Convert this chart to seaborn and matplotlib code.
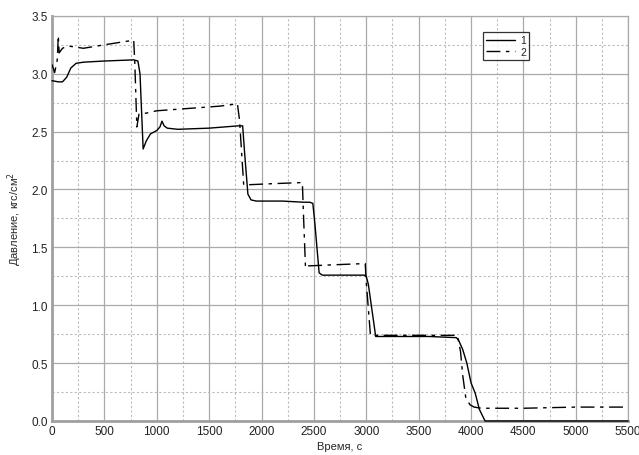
import numpy as np
import pandas as pd
import matplotlib
matplotlib.use("Agg")
import matplotlib.pyplot as plt
import seaborn as sns
from matplotlib.ticker import MultipleLocator

# curve 1 (solid)
t1 = [0, 60, 100, 140, 180, 230, 300, 500, 780, 820, 840, 870, 900, 940, 1000, 1030,
      1050, 1070, 1100, 1200, 1500, 1780, 1820, 1840, 1870, 1900, 1950, 2200, 2400,
      2460, 2490, 2510, 2550, 2580, 2800, 2980, 3000, 3020, 3090, 3300, 3600, 3860,
      3880, 3920, 3960, 4000, 4040, 4080, 4134, 4500, 5000, 5500]
p1 = [2.94, 2.93, 2.93, 2.97, 3.05, 3.09, 3.10, 3.11, 3.12, 3.11, 3.00, 2.35, 2.42,
      2.48, 2.51, 2.54, 2.59, 2.55, 2.53, 2.52, 2.53, 2.55, 2.55, 2.30, 1.96, 1.91,
      1.90, 1.90, 1.89, 1.89, 1.88, 1.70, 1.28, 1.26, 1.26, 1.26, 1.25, 1.18, 0.73,
      0.73, 0.73, 0.72, 0.70, 0.62, 0.50, 0.33, 0.24, 0.10, 0.00, 0.00, 0.00, 0.00]

# curve 2 (dash-dot)
t2 = [0, 25, 50, 60, 68, 100, 150, 300, 500, 780, 790, 810, 830, 900, 1000, 1300,
      1600, 1770, 1790, 1830, 1850, 2100, 2390, 2400, 2420, 2450, 2700, 2990, 3000,
      3040, 3060, 3300, 3600, 3870, 3900, 3920, 3950, 3990, 4030, 4100, 4500, 5000, 5500]
p2 = [3.08, 3.01, 3.12, 3.33, 3.18, 3.22, 3.24, 3.22, 3.25, 3.29, 3.10, 2.54, 2.65,
      2.66, 2.68, 2.70, 2.72, 2.74, 2.60, 2.04, 2.04, 2.05, 2.06, 1.80, 1.32, 1.34,
      1.35, 1.36, 1.20, 0.74, 0.74, 0.74, 0.74, 0.74, 0.60, 0.40, 0.20, 0.14, 0.12,
      0.11, 0.11, 0.12, 0.12]

sns.set_style("white")
plt.rcParams['font.family'] = ['Liberation Sans', 'DejaVu Sans']

fig = plt.figure(figsize=(6.39, 4.56), dpi=100)
ax = fig.add_axes([0.0814, 0.0746, 0.9016, 0.8884])

df1 = pd.DataFrame({"t": t1, "p": p1})
df2 = pd.DataFrame({"t": t2, "p": p2})
sns.lineplot(data=df1, x="t", y="p", ax=ax, color="black", lw=1.0,
             estimator=None, sort=False, label="1", zorder=4, clip_on=False)
sns.lineplot(data=df2, x="t", y="p", ax=ax, color="black", lw=1.0,
             estimator=None, sort=False, label="2", dashes=False, zorder=4)
ax.lines[1].set_dashes([10, 4, 2.5, 4])

ax.set_xlim(0, 5500)
ax.set_ylim(0, 3.5)
ax.xaxis.set_major_locator(MultipleLocator(500))
ax.xaxis.set_minor_locator(MultipleLocator(250))
ax.yaxis.set_major_locator(MultipleLocator(0.5))
ax.yaxis.set_minor_locator(MultipleLocator(0.25))
ax.yaxis.set_major_formatter(matplotlib.ticker.FormatStrFormatter('%.1f'))
ax.grid(which="major", color="#aaaaaa", lw=0.9, ls="-")
ax.grid(which="minor", color="#bbbbbb", lw=0.8, ls=(0, (2, 2)))
ax.set_axisbelow(True)
ax.tick_params(which="both", length=0, labelsize=8.5, pad=3, colors="#222222")

for side in ["left", "bottom"]:
    ax.spines[side].set_color("#a0a0a0")
    ax.spines[side].set_linewidth(2.0)
for side in ["top", "right"]:
    ax.spines[side].set_color("#aaaaaa")
    ax.spines[side].set_linewidth(0.9)

ax.set_xlabel("Время, с", fontsize=8, labelpad=3)
ax.set_ylabel("Давление, кгс/см$^2$", fontsize=8, labelpad=5)

leg = ax.legend(loc="upper left", bbox_to_anchor=(0.748, 0.96), fontsize=7.5,
                frameon=True, fancybox=False, edgecolor="black",
                handlelength=2.8, handletextpad=0.5, borderpad=0.3,
                labelspacing=0.15, borderaxespad=0)
leg.get_frame().set_linewidth(0.9)
leg.set_zorder(5)

fig.savefig("out.png", dpi=100)
